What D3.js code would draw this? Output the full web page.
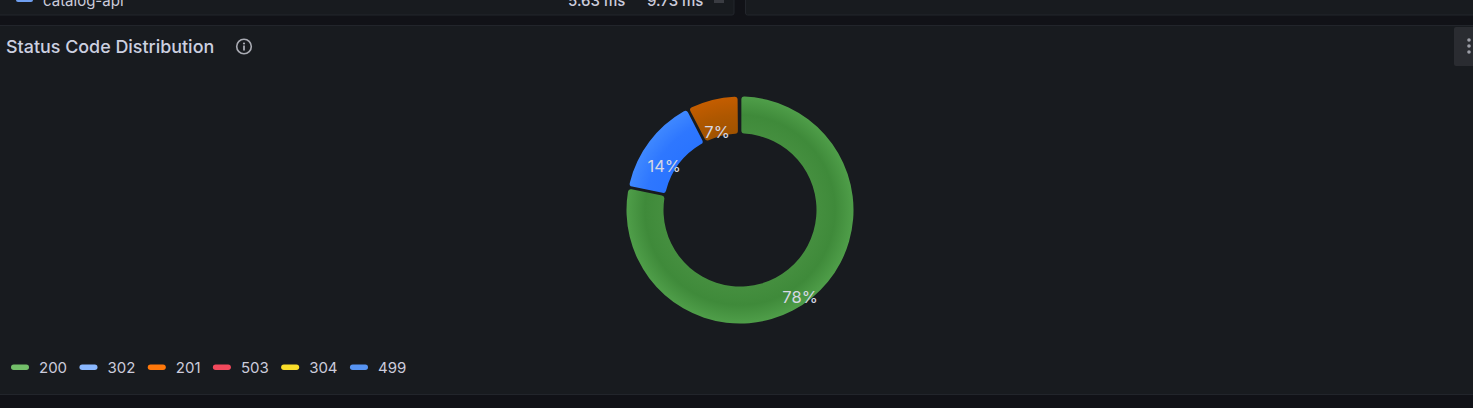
<!DOCTYPE html>
<html><head><meta charset="utf-8">
<script src="https://cdnjs.cloudflare.com/ajax/libs/d3/7.8.5/d3.min.js"></script>
<style>
html,body{margin:0;padding:0;background:#111217;overflow:hidden}
svg{display:block}
text{font-family:Inter,"Noto Sans",sans-serif}
</style></head><body>
<svg id="c" width="1473" height="408"></svg>
<script>
const title = "Status Code Distribution";
const categories = ["200","302","201","503","304","499"];
const values = [78.2,14.2,7.45,0.05,0.05,0.05];
const legendColors = ["#73bf69","#8ab8ff","#ff780a","#f2495c","#fade2a","#5794f2"];
const sliceInner = ["#458f3f","#2a74ff","#a05300","#f2495c","#fade2a","#5794f2"];
const sliceMid = ["#3f8a3a","#2e77ff","#ae5700","#f2495c","#fade2a","#5794f2"];
const sliceOuter = ["#4f9e49","#3f88ff","#c45d00","#f2495c","#fade2a","#5794f2"];

const svg = d3.select("#c");
const W = 1473, H = 408;
const cx = 740, cy = 210, R = 113.5, r0 = 76.5;

// upper panel remnant
svg.append("rect").attr("x",-2).attr("y",-20).attr("width",736).attr("height",35).attr("rx",2)
  .attr("fill","#181b1f").attr("stroke","#23262c");
svg.append("rect").attr("x",745.5).attr("y",-20).attr("width",740).attr("height",35).attr("rx",2)
  .attr("fill","#181b1f").attr("stroke","#23262c");
svg.append("rect").attr("x",16).attr("y",-4).attr("width",17).attr("height",6).attr("rx",2).attr("fill","#6f9ff0");
const topRow = svg.append("g").attr("font-size",15).attr("fill","#ccccdc");
topRow.append("text").attr("x",43).attr("y",6).text("catalog-api");
topRow.append("text").attr("x",568).attr("y",6).attr("font-weight",500).text("5.63 ms");
topRow.append("text").attr("x",647).attr("y",6).attr("font-weight",500).text("9.73 ms");
svg.append("rect").attr("x",714).attr("y",-6).attr("width",10).attr("height",9).attr("fill","#3a3c42");

// main panel
svg.append("rect").attr("x",-2).attr("y",25.5).attr("width",W+4).attr("height",369).attr("fill","#181b1f").attr("stroke","#22252b");

svg.append("text").attr("x",6).attr("y",53).attr("font-size",17.9).attr("font-weight",500).attr("fill","#ccd0e0").text(title);
// info icon
const info = svg.append("g").attr("transform","translate(244,46.5)");
info.append("circle").attr("r",7.3).attr("fill","none").attr("stroke","#a9abb3").attr("stroke-width",1.6);
info.append("circle").attr("cy",-3).attr("r",1.1).attr("fill","#a9abb3");
info.append("rect").attr("x",-0.9).attr("y",-1).attr("width",1.8).attr("height",5).attr("fill","#a9abb3");

// menu button
svg.append("rect").attr("x",1454).attr("y",27).attr("width",30).attr("height",39).attr("rx",2).attr("fill","#2a2c31");
[40,46,52].forEach(y=>svg.append("circle").attr("cx",1469).attr("cy",y).attr("r",1.8).attr("fill","#9d9fa7"));

// gradients (user space of the translated ring group, so centred on 0,0)
const defs = svg.append("defs");
categories.forEach((c,i)=>{
  const g = defs.append("radialGradient").attr("id","g"+i).attr("gradientUnits","userSpaceOnUse")
    .attr("cx",0).attr("cy",0).attr("r",R);
  g.append("stop").attr("offset",r0/R).attr("stop-color",sliceInner[i]);
  g.append("stop").attr("offset",(r0+R)/2/R).attr("stop-color",sliceMid[i]);
  g.append("stop").attr("offset",1).attr("stop-color",sliceOuter[i]);
});

const pie = d3.pie().sort(null).value(d=>d);
const arcs = pie(values);
const arc = d3.arc().innerRadius(r0).outerRadius(R).padAngle(0.024).padRadius(R).cornerRadius(3);
const mid = d3.arc().innerRadius((r0+R)/2).outerRadius((r0+R)/2);
const gp = svg.append("g").attr("transform",`translate(${cx},${cy})`);
gp.selectAll("path").data(arcs.filter(d=>d.value>=1)).join("path")
  .attr("d",arc).attr("fill",d=>`url(#g${d.index})`);
gp.selectAll("text").data(arcs.filter(d=>d.value>=1)).join("text")
  .attr("x",d=>mid.centroid(d)[0]).attr("y",d=>mid.centroid(d)[1]+19.7)
  .attr("text-anchor","middle").attr("font-size",16.5).attr("fill","#d6d8e4")
  .text(d=>Math.round(d.value)+"%");

// legend
let x = 11;
const lg = svg.append("g");
categories.forEach((c,i)=>{
  lg.append("rect").attr("x",x).attr("y",364.5).attr("width",18).attr("height",5.5).attr("rx",2.75).attr("fill",legendColors[i]);
  const t = lg.append("text").attr("x",x+28).attr("y",373).attr("font-size",15).attr("fill","#ccccdc").text(c);
  x += 28 + t.node().getComputedTextLength() + 12.4;
});
</script></body></html>
